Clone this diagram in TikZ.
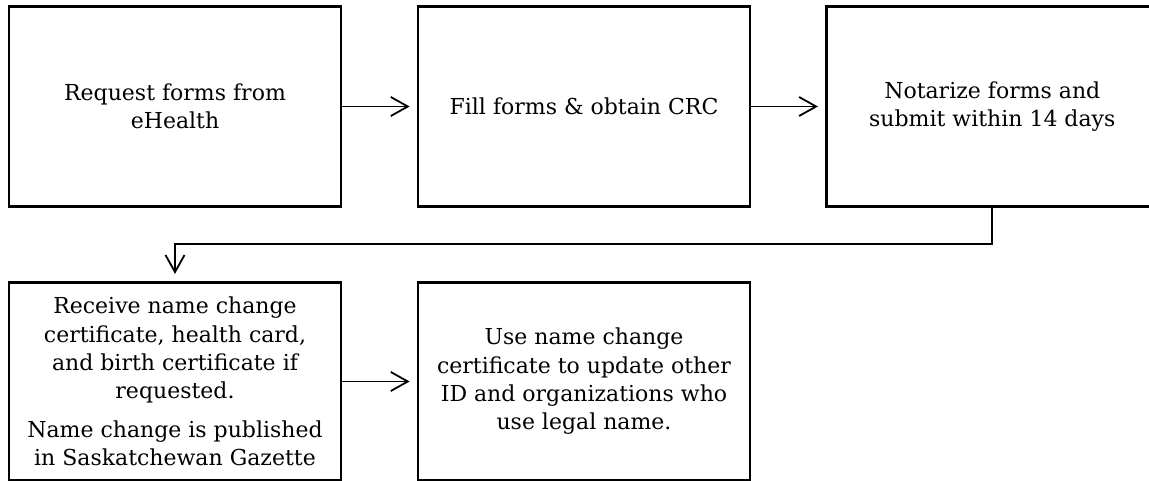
\documentclass[tikz,border=0pt]{standalone}
\usepackage{fontspec}
\setmainfont{DejaVu Serif}
\usetikzlibrary{arrows.meta}

\begin{document}
\begin{tikzpicture}[x=1pt,y=-1pt,
  stepbox/.style={draw, line width=2.7pt, minimum width=332pt, minimum height=199.4pt,
    inner sep=0pt, align=center, font=\fontsize{22}{28.3}\selectfont},
  flow/.style={line width=1.8pt, shorten >=7pt,
    -{Straight Barb[length=17pt,width=19pt,line width=1.8pt]}}
]
\useasboundingbox (0,0) rectangle (1149,481);
\clip (0,0) rectangle (1149,481);

% top row
\node[stepbox] (req)  at (175,106.5)   {Request forms from\\eHealth};
\node[stepbox] (fill) at (584,106.5)   {Fill forms \& obtain CRC};
\node[stepbox] (nota) at (992.3,106.5) {Notarize forms and\\submit within 14 days};

% bottom row
\node[stepbox, minimum height=198.5pt] (recv) at (175,381.5)
  {Receive name change\\certificate, health card,\\and birth certificate if\\requested.\\[10pt]
   Name change is published\\in Saskatchewan Gazette};
\node[stepbox, minimum height=198.5pt] (use) at (584,381.5)
  {Use name change\\certificate to update other\\ID and organizations who\\use legal name.};

% connectors
\draw[flow] (req.east)  -- (fill.west);
\draw[flow] (fill.east) -- (nota.west);
\draw[flow] (recv.east) -- (use.west);
\coordinate (bend) at (0,244);
\draw[flow] (nota.south) |- (bend -| recv.north) -- (recv.north);
\end{tikzpicture}
\end{document}
